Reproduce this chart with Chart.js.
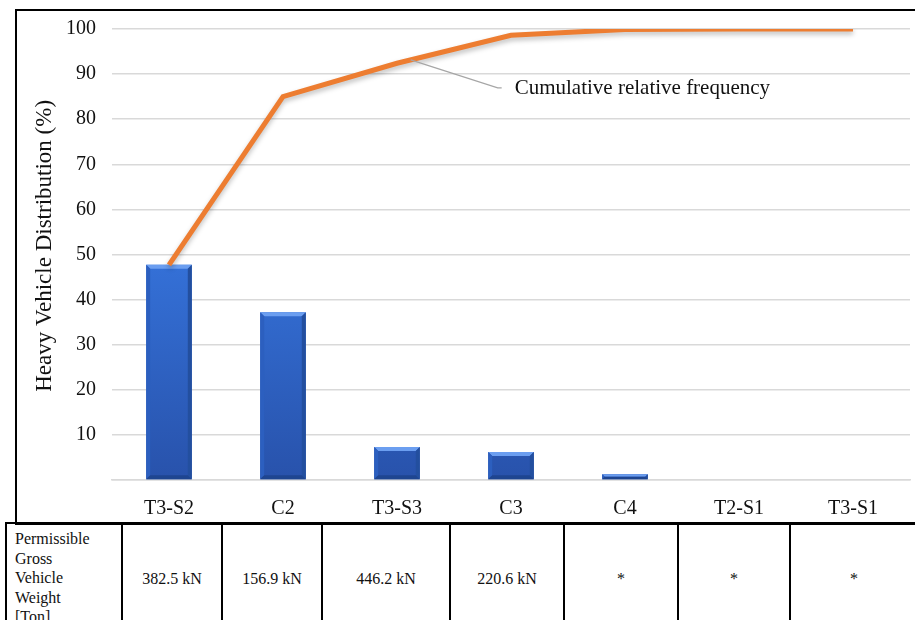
<!DOCTYPE html>
<html>
<head>
<meta charset="utf-8">
<script src="https://cdn.jsdelivr.net/npm/chart.js@4/dist/chart.umd.min.js"></script>
<style>
  html, body { margin: 0; padding: 0; background: #fff; overflow: hidden; }
  body { width: 915px; height: 620px; position: relative; font-family: "Liberation Serif", "Times New Roman", serif; }
  #frame {
    position: absolute; left: 15px; top: 9px; width: 920px; height: 512px;
    border: 2px solid #000; box-sizing: content-box;
  }
  #wrap { position: absolute; left: 0; top: 0; width: 915px; height: 522px; }
  #weights {
    position: absolute; left: 5px; top: 522px; border-collapse: collapse;
    table-layout: fixed; font-size: 16px; color: #111;
  }
  #weights td { border: 2px solid #000; height: 104px; text-align: center; vertical-align: middle; padding: 0; }
  #weights td.head { text-align: left; vertical-align: top; padding: 5px 0 0 8px; line-height: 19.5px; font-size: 16px; }
</style>
</head>
<body>
<div id="frame"></div>
<div id="wrap"><canvas id="grafico"></canvas></div>
<table id="weights"><tr id="weightRow"></tr></table>

<script>
// dados
const categorias = ['T3-S2', 'C2', 'T3-S3', 'C3', 'C4', 'T2-S1', 'T3-S1']
const distribuicao = [47.7, 37.2, 7.3, 6.2, 1.3, 0, 0]
const acumulada = [47.7, 85.0, 92.4, 98.6, 99.9, 100, 100]
const pesos = ['382.5 kN', '156.9 kN', '446.2 kN', '220.6 kN', '*', '*', '*']
const tituloTabela = ['Permissible', 'Gross', 'Vehicle', 'Weight', '[Ton]']
const rotuloLinha = 'Cumulative relative frequency'

// tabela de pesos embaixo do gráfico (larguras das colunas em px)
const larguras = [116, 100, 100, 128, 114, 114, 112, 128]
const linha = document.getElementById('weightRow')
document.getElementById('weights').style.width = larguras.reduce((a, b) => a + b, 0) + 'px'
const cab = document.createElement('td')
cab.className = 'head'
cab.style.width = (larguras[0] - 10) + 'px'
cab.innerHTML = tituloTabela.join('<br>')
linha.appendChild(cab)
pesos.forEach((p, i) => {
    const td = document.createElement('td')
    td.style.width = (larguras[i + 1] - 2) + 'px'
    td.textContent = p
    linha.appendChild(td)
})

const fonte = "'Liberation Serif', 'Times New Roman', serif"

// chanfro nas barras
const bevelPlugin = {
    id: 'bevel',
    afterDatasetDraw(chart, args) {
        if (args.index !== 0) return
        const ctx = chart.ctx
        const meta = chart.getDatasetMeta(0)
        meta.data.forEach(bar => {
            const { x, y, base, width } = bar.getProps(['x', 'y', 'base', 'width'], true)
            const h = base - y
            if (h < 0.5) return
            const l = x - width / 2, r = x + width / 2
            const b = Math.min(4, h / 2)
            const poly = (pts, cor) => {
                ctx.beginPath()
                ctx.moveTo(pts[0][0], pts[0][1])
                pts.slice(1).forEach(p => ctx.lineTo(p[0], p[1]))
                ctx.closePath()
                ctx.fillStyle = cor
                ctx.fill()
            }
            ctx.save()
            poly([[l, y], [r, y], [r - b, y + b], [l + b, y + b]], '#6b9ef0')
            poly([[l, y], [l + b, y + b], [l + b, base - b], [l, base]], '#2c5fbf')
            poly([[r, y], [r - b, y + b], [r - b, base - b], [r, base]], '#234f9f')
            poly([[l, base], [l + b, base - b], [r - b, base - b], [r, base]], '#1e4590')
            ctx.restore()
        })
    }
}

// sombra da linha
const sombraPlugin = {
    id: 'sombra',
    beforeDatasetDraw(chart, args) {
        if (args.index !== 1) return
        const ctx = chart.ctx
        ctx.save()
        ctx.shadowColor = 'rgba(0,0,0,0.25)'
        ctx.shadowBlur = 5
        ctx.shadowOffsetY = 3
    },
    afterDatasetDraw(chart, args) {
        if (args.index !== 1) return
        chart.ctx.restore()
    }
}

// rótulo da linha com chamada
const rotuloPlugin = {
    id: 'rotulo',
    afterDatasetsDraw(chart) {
        const ctx = chart.ctx
        const meta = chart.getDatasetMeta(1)
        const p2 = meta.data[2], p3 = meta.data[3]
        const ax = p2.x + (p3.x - p2.x) * 0.12
        const ay = p2.y + (p3.y - p2.y) * 0.12
        const ex = ax + 87, ey = ay + 28
        ctx.save()
        ctx.strokeStyle = '#a6a6a6'
        ctx.lineWidth = 1.2
        ctx.beginPath()
        ctx.moveTo(ax, ay)
        ctx.lineTo(ex, ey)
        ctx.lineTo(ex + 4, ey)
        ctx.stroke()
        ctx.fillStyle = '#111'
        ctx.font = '21px ' + fonte
        ctx.textBaseline = 'middle'
        ctx.fillText(rotuloLinha, ex + 17, ey + 1)
        ctx.restore()
    }
}

const canvas = document.getElementById('grafico')

new Chart(canvas, {
    type: 'bar',
    data: {
        labels: categorias,
        datasets: [{
            label: 'Distribution',
            data: distribuicao,
            order: 2,
            backgroundColor: (c) => {
                const area = c.chart.chartArea
                if (!area) return '#2f66cc'
                const g = c.chart.ctx.createLinearGradient(0, area.top + 200, 0, area.bottom)
                g.addColorStop(0, '#3675de')
                g.addColorStop(1, '#2852ab')
                return g
            },
            barPercentage: 0.4,
            categoryPercentage: 1
        }, {
            type: 'line',
            label: rotuloLinha,
            data: acumulada,
            order: 1,
            borderColor: '#ed7d31',
            borderWidth: 5,
            pointRadius: 0,
            tension: 0,
            fill: false
        }]
    },
    options: {
        responsive: true,
        maintainAspectRatio: false,
        animation: false,
        layout: { padding: { top: 29, right: 5, left: 0, bottom: 0 } },
        plugins: {
            legend: { display: false },
            tooltip: { enabled: false }
        },
        scales: {
            x: {
                grid: { display: false, drawTicks: false },
                border: { display: true, color: '#d9d9d9', width: 1.5 },
                ticks: { color: '#111', padding: 17, font: { family: fonte, size: 20 } },
                afterFit: (s) => { s.height = 42 }
            },
            y: {
                min: 0,
                max: 100,
                ticks: {
                    stepSize: 10,
                    padding: 16,
                    color: '#111',
                    font: { family: fonte, size: 20 },
                    callback: (v) => v === 0 ? '' : v
                },
                grid: { color: '#d9d9d9', lineWidth: 1.5, drawTicks: false },
                border: { display: false },
                title: {
                    display: true,
                    // espaços no início sobem o texto um pouco, como no original
                    text: '   Heavy Vehicle Distribution (%)',
                    color: '#111',
                    font: { family: fonte, size: 23 },
                    padding: { top: 31, bottom: 0 }
                },
                afterFit: (s) => { s.width = 112 }
            }
        }
    },
    plugins: [bevelPlugin, sombraPlugin, rotuloPlugin]
})
</script>
</body>
</html>
